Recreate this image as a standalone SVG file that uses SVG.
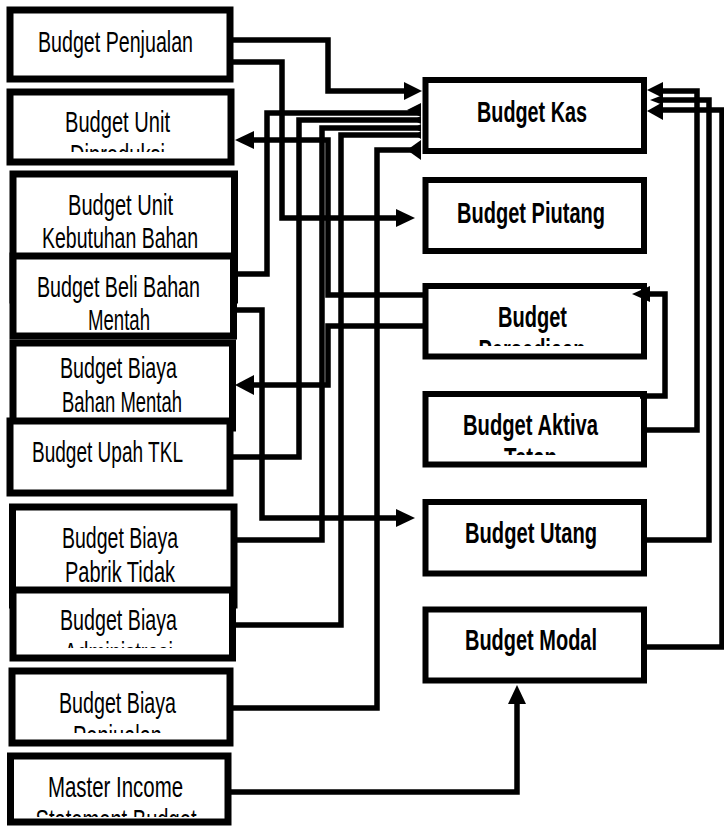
<svg xmlns="http://www.w3.org/2000/svg" width="724" height="826" viewBox="0 0 724 826">
<style>
.lb{fill:#fff;stroke:#000;stroke-width:7}
.rb{fill:#fff;stroke:#000;stroke-width:6}
.t{font-family:"Liberation Sans",Arial,sans-serif;font-size:29px;fill:#000}
.b{font-weight:bold}
.c{fill:none;stroke:#000;stroke-width:5.5;stroke-linejoin:miter}
.a{fill:#000}
</style>
<defs>
<clipPath id="cp2"><rect x="14" y="95" width="214" height="57"/></clipPath>
<clipPath id="cp8"><rect x="17" y="594" width="212" height="54"/></clipPath>
<clipPath id="cp9"><rect x="16" y="675" width="210" height="58"/></clipPath>
<clipPath id="cp10"><rect x="14" y="760" width="210" height="57"/></clipPath>
<clipPath id="cpP"><rect x="429" y="290" width="211" height="56"/></clipPath>
<clipPath id="cpA"><rect x="429" y="398" width="211" height="57"/></clipPath>
</defs>
<rect width="724" height="826" fill="#fff"/>

<g id="n1"><rect class="lb" x="10" y="10" width="220" height="69"/>
<text class="t" x="38" y="52" textLength="155" lengthAdjust="spacingAndGlyphs">Budget Penjualan</text></g>
<g id="n2"><rect class="lb" x="10" y="92" width="221" height="70"/>
<g clip-path="url(#cp2)"><text class="t" x="65" y="132" textLength="105" lengthAdjust="spacingAndGlyphs">Budget Unit</text>
<text class="t" x="70" y="165" textLength="95" lengthAdjust="spacingAndGlyphs">Diproduksi</text></g></g>
<g id="n3"><rect class="lb" x="13" y="174" width="221.5" height="126"/>
<text class="t" x="68" y="215" textLength="105" lengthAdjust="spacingAndGlyphs">Budget Unit</text>
<text class="t" x="42" y="248" textLength="156" lengthAdjust="spacingAndGlyphs">Kebutuhan Bahan</text></g>
<g id="n4"><rect class="lb" x="13" y="256" width="220.5" height="80"/>
<text class="t" x="37" y="297" textLength="163" lengthAdjust="spacingAndGlyphs">Budget Beli Bahan</text>
<text class="t" x="88" y="330" textLength="62" lengthAdjust="spacingAndGlyphs">Mentah</text></g>
<g id="n5"><rect class="lb" x="13" y="343" width="219.5" height="85"/>
<text class="t" x="60" y="378" textLength="117" lengthAdjust="spacingAndGlyphs">Budget Biaya</text>
<text class="t" x="62" y="412" textLength="120" lengthAdjust="spacingAndGlyphs">Bahan Mentah</text></g>
<g id="n6"><rect class="lb" x="10" y="421" width="220" height="72"/>
<text class="t" x="32" y="462" textLength="151" lengthAdjust="spacingAndGlyphs">Budget Upah TKL</text></g>
<g id="n7"><rect class="lb" x="12.5" y="507" width="221.5" height="98"/>
<text class="t" x="62" y="548" textLength="116" lengthAdjust="spacingAndGlyphs">Budget Biaya</text>
<text class="t" x="65" y="582" textLength="110" lengthAdjust="spacingAndGlyphs">Pabrik Tidak</text></g>
<g id="n8"><rect class="lb" x="13" y="590" width="219.5" height="68"/>
<g clip-path="url(#cp8)"><text class="t" x="60" y="630" textLength="117" lengthAdjust="spacingAndGlyphs">Budget Biaya</text>
<text class="t" x="64" y="663" textLength="109" lengthAdjust="spacingAndGlyphs">Administrasi</text></g></g>
<g id="n9"><rect class="lb" x="12" y="671" width="218" height="72"/>
<g clip-path="url(#cp9)"><text class="t" x="59" y="713" textLength="117" lengthAdjust="spacingAndGlyphs">Budget Biaya</text>
<text class="t" x="73" y="746" textLength="89" lengthAdjust="spacingAndGlyphs">Penjualan</text></g></g>
<g id="n10"><rect class="lb" x="10.5" y="756" width="217.5" height="66"/>
<g clip-path="url(#cp10)"><text class="t" x="48" y="797" textLength="135" lengthAdjust="spacingAndGlyphs">Master Income</text>
<text class="t" x="35.5" y="830" textLength="161" lengthAdjust="spacingAndGlyphs">Statement Budget</text></g></g>

<g id="kas"><rect class="rb" x="425.5" y="80" width="218.5" height="71"/>
<text class="t b" x="477" y="122" textLength="110" lengthAdjust="spacingAndGlyphs">Budget Kas</text></g>
<g id="piutang"><rect class="rb" x="425.5" y="180" width="218.5" height="71"/>
<text class="t b" x="457" y="223" textLength="148" lengthAdjust="spacingAndGlyphs">Budget Piutang</text></g>
<g id="persediaan"><rect class="rb" x="425.5" y="286" width="218.5" height="70.5"/>
<g clip-path="url(#cpP)"><text class="t b" x="498" y="327" textLength="69" lengthAdjust="spacingAndGlyphs">Budget</text>
<text class="t b" x="478.5" y="360" textLength="107" lengthAdjust="spacingAndGlyphs">Persediaan</text></g></g>
<g id="aktiva"><rect class="rb" x="425.5" y="394" width="218.5" height="70.5"/>
<g clip-path="url(#cpA)"><text class="t b" x="463" y="435" textLength="135" lengthAdjust="spacingAndGlyphs">Budget Aktiva</text>
<text class="t b" x="504" y="468" textLength="53" lengthAdjust="spacingAndGlyphs">Tetap</text></g></g>
<g id="utang"><rect class="rb" x="425.5" y="502" width="218.5" height="71.5"/>
<text class="t b" x="465" y="543" textLength="132" lengthAdjust="spacingAndGlyphs">Budget Utang</text></g>
<g id="modal"><rect class="rb" x="425.5" y="609.5" width="218.5" height="71"/>
<text class="t b" x="465" y="650" textLength="132" lengthAdjust="spacingAndGlyphs">Budget Modal</text></g>

<g id="connectors">
<polyline class="c" points="233,40 328,40 328,91 406,91"/>
<polygon class="a" points="404,82 422,91 404,100"/>
<polyline class="c" points="233,62 282,62 282,218 398,218"/>
<polygon class="a" points="396,209 415,218 396,227"/>
<polyline class="c" points="236,274 267,274 267,113 421,113"/>
<polygon class="a" points="421,103 407,110 421,117"/>
<polyline class="c" points="232,457 299,457 299,120 421,120"/>
<polygon class="a" points="421,116 413,120 421,124"/>
<polyline class="c" points="236,540 322,540 322,128 421,128"/>
<polygon class="a" points="421,124 414,128 421,132"/>
<polyline class="c" points="235,625 341,625 341,135 421,135"/>
<polygon class="a" points="421,131 415,135 421,139"/>
<polyline class="c" points="232,708 377,708 377,150 421,150"/>
<polygon class="a" points="421,140 407,150 421,160"/>
<polyline class="c" points="423,295 328,295 328,140 252,140"/>
<polygon class="a" points="254,131 235,140 254,149"/>
<polyline class="c" points="423,326 328,326 328,385 252,385"/>
<polygon class="a" points="254,375 235,385 254,395"/>
<polyline class="c" points="236,310 262,310 262,518 398,518"/>
<polygon class="a" points="396,509 415,518 396,527"/>
<polyline class="c" points="647,430 697,430 697,91 662,91"/>
<polygon class="a" points="663,82 647,90 663,98"/>
<polyline class="c" points="647,540 709,540 709,100 662,100"/>
<polygon class="a" points="663,95 650,100 663,105"/>
<polyline class="c" points="647,647 722,647 722,110 662,110"/>
<polygon class="a" points="663,102 647,111 663,120"/>
<polyline class="c" points="640,396 665,396 665,294 648,294"/>
<polygon class="a" points="650,286 632,294 650,302"/>
<polyline class="c" points="230,792 517,792 517,702"/>
<polygon class="a" points="508,704 517,685 526,704"/>
</g>
</svg>
